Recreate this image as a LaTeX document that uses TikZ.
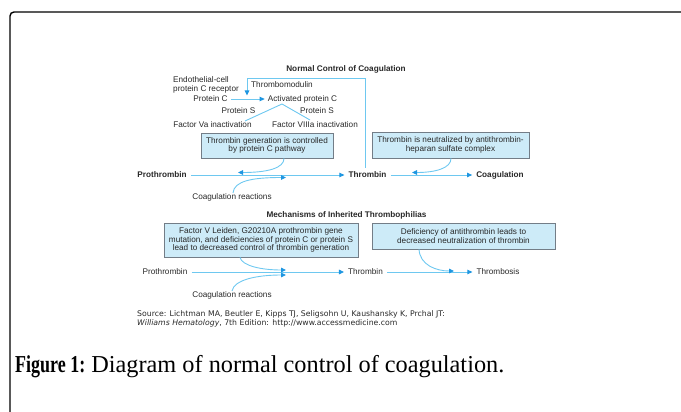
\documentclass[tikz,border=0pt]{standalone}
\usepackage{fontspec}
\setmainfont{Liberation Serif}
\newfontfamily\dsans{Liberation Sans}
\newfontfamily\srcfont{DejaVu Sans}
\usetikzlibrary{arrows.meta}
\definecolor{lnblue}{RGB}{110,200,240}
\definecolor{tipblue}{RGB}{30,150,225}
\definecolor{boxfill}{RGB}{205,235,248}
\definecolor{boxline}{RGB}{115,125,135}
\definecolor{txt}{RGB}{40,40,40}
\begin{document}
\begin{tikzpicture}[x=1pt,y=-1pt,
  lbl/.style={font=\dsans\fontsize{8.2}{8.8}\selectfont, inner sep=0pt, text=txt},
  blbl/.style={font=\dsans\bfseries\fontsize{8.2}{8.8}\selectfont, inner sep=0pt, text=txt},
  endlbl/.style={inner sep=4pt},
  infobox/.style={font=\dsans\fontsize{8.2}{8.6}\selectfont, text=txt, draw=boxline, fill=boxfill, line width=0.8pt, align=center, inner sep=0pt},
  conn/.style={draw=lnblue, line width=0.9pt, -{Triangle[length=5pt,width=4.5pt,color=tipblue]}},
  plain/.style={draw=lnblue, line width=0.9pt}
]
\useasboundingbox (0,0) rectangle (681,412);
% frame
\draw[line width=1.4pt, rounded corners=4pt] (10,413) -- (10,12) -- (682,12);

% ---------- Normal control ----------
\node[blbl] (t1) at (346,69) {Normal Control of Coagulation};
\node[lbl, anchor=west] (tm) at (251,85) {Thrombomodulin};
\node[lbl, anchor=west, align=left] (ecr) at (173,85) {Endothelial-cell\\protein C receptor};
\node[lbl, inner xsep=3pt] (pc) at (210.5,99) {Protein C};
\node[lbl, inner xsep=3pt] (apc) at (302.5,99) {Activated protein C};
\node[lbl] (ps1) at (238.5,111) {Protein S};
\node[lbl] (ps2) at (317,111) {Protein S};
\node[lbl] (fva) at (212.5,125) {Factor Va inactivation};
\node[lbl] (fviii) at (315,125) {Factor VIIIa inactivation};

\node[infobox, minimum width=132pt, minimum height=25pt] (b1) at (267,145.5)
  {Thrombin generation is controlled\\by protein C pathway};
\node[infobox, minimum width=157pt, minimum height=26pt] (b2) at (450.5,145)
  {Thrombin is neutralized by antithrombin-\\heparan sulfate complex};

\node[blbl, endlbl] (pro1) at (162,175) {Prothrombin};
\node[blbl, endlbl] (thr1) at (367.5,175) {Thrombin};
\node[blbl, endlbl] (coag1) at (500,175) {Coagulation};
\node[lbl] (cr1) at (232,197) {Coagulation reactions};

\coordinate (tmleft) at (247,78);
\coordinate (tmtip) at (247,95.5);
\coordinate (apcfork) at (282,104);
\coordinate (fvaend) at (245,121);
\coordinate (fviiiend) at (310,120);
\coordinate (b1tip) at (238,172.5);
\coordinate (cr1tip) at (286,177.5);
\coordinate (b2tip) at (412,172.5);

\draw[conn] ([xshift=-2.5pt]thr1.north) |- (tmleft) -- (tmtip);
\draw[conn] (pc) -- (apc);
\draw[plain] (apcfork) -- (fvaend);
\draw[plain] (apcfork) -- (fviiiend);
\draw[conn] (pro1) -- (thr1);
\draw[conn] (thr1) -- (coag1);
\draw[conn] (b1.south -| 284,0) .. controls (284,168) and (268,172.5) .. (b1tip);
\draw[conn] (cr1.north -| 233,0) .. controls (234,181) and (252,177.5) .. (cr1tip);
\draw[conn] (b2.south -| 451,0) .. controls (451,168) and (436,172.5) .. (b2tip);

% ---------- Inherited thrombophilias ----------
\node[blbl] (t2) at (346.5,215) {Mechanisms of Inherited Thrombophilias};
\node[infobox, minimum width=194pt, minimum height=34pt] (b3) at (261,240)
  {Factor V Leiden, G20210A prothrombin gene\\mutation, and deficiencies of protein C or protein S\\lead to decreased control of thrombin generation};
\node[infobox, minimum width=183pt, minimum height=26pt] (b4) at (463.5,236)
  {Deficiency of antithrombin leads to\\decreased neutralization of thrombin};

\node[lbl, endlbl] (pro2) at (165,272) {Prothrombin};
\node[lbl, endlbl] (thr2) at (365.5,272) {Thrombin};
\node[lbl, endlbl] (tbs) at (498,272) {Thrombosis};
\node[lbl] (cr2) at (232,295) {Coagulation reactions};

\coordinate (b3tip) at (286,270);
\coordinate (cr2tip) at (286,275);
\coordinate (b4tip) at (454,271);

\draw[conn] (pro2) -- (thr2);
\draw[conn] (thr2) -- (tbs);
\draw[conn] (b3.south -| 240,0) .. controls (242,266) and (262,270) .. (b3tip);
\draw[conn] (cr2.north -| 232,0) .. controls (234,280) and (256,275) .. (cr2tip);
\draw[conn] (b4.south -| 419,0) .. controls (420,265) and (436,271) .. (b4tip);

% source
\node[anchor=west, align=left, inner sep=0pt, text=txt, font=\srcfont\fontsize{7.75}{7.4}\selectfont] (src) at (137,319)
  {Source: Lichtman MA, Beutler E, Kipps TJ, Seligsohn U, Kaushansky K, Prchal JT:\\
   \textit{Williams Hematology}, 7th Edition: http://www.accessmedicine.com};

% caption
\node[anchor=base west, inner sep=0pt, font=\fontsize{24.3}{27}\selectfont] (cap) at (15,372)
  {\scalebox{0.74}[1]{\textbf{Figure 1:}} Diagram of normal control of coagulation.};
\end{tikzpicture}
\end{document}
